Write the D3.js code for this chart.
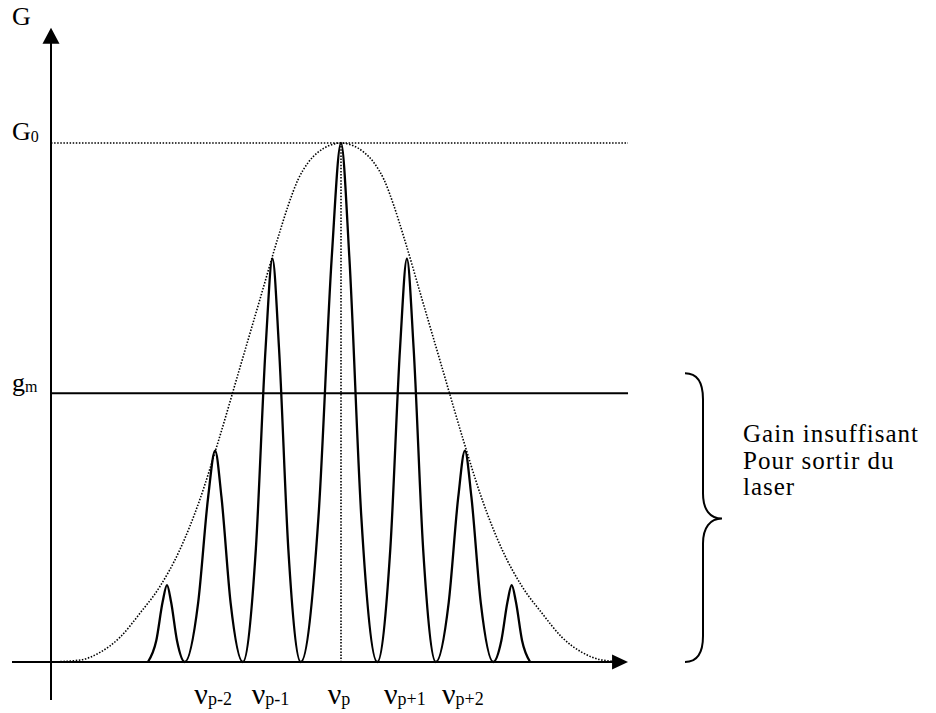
<!DOCTYPE html>
<html>
<head>
<meta charset="utf-8">
<script src="https://cdn.jsdelivr.net/npm/d3@7"></script>
<style>
  html, body { margin: 0; padding: 0; background: #fff; }
  svg text { font-family: "Liberation Serif", "Times New Roman", serif; fill: #000; }
</style>
</head>
<body>
<div id="chart"></div>
<script>
// longitudinal modes (nu in units of the mode spacing, gain relative to G0)
const modeNu = [-2.64, -1.91, -1.04, 0, 1.0, 1.88, 2.59];
const modeGain = [0.148, 0.407, 0.777, 1.0, 0.777, 0.407, 0.148];
const modeFeet = [-2.93, -2.37, -1.49, -0.61, 0.55, 1.44, 2.31, 2.87];
const modeLabels = ['', 'p-2', 'p-1', 'p', 'p+1', 'p+2', ''];
// shape of one mode: [fraction of half width, fraction of height]
const modeProfile = [[1, 0], [0.56, 0.28], [0.23, 0.78], [0, 1]];

// gain curve (dotted)
const envelopeNu = [-4.4, -3.95, -3.65, -3.35, -3.05, -2.75, -2.45, -2.15, -1.85, -1.55, -1.25, -0.95, -0.8, -0.65, -0.5, -0.35, -0.18, 0,
  0.18, 0.35, 0.5, 0.65, 0.8, 0.95, 1.25, 1.55, 1.85, 2.15, 2.45, 2.75, 3.05, 3.35, 3.65, 3.95, 4.3];
const envelopeGain = [0, 0.004, 0.019, 0.048, 0.094, 0.145, 0.215, 0.31, 0.43, 0.56, 0.69, 0.82, 0.88, 0.93, 0.962, 0.982, 0.995, 1,
  0.995, 0.982, 0.962, 0.93, 0.88, 0.82, 0.69, 0.56, 0.43, 0.31, 0.215, 0.145, 0.094, 0.048, 0.019, 0.004, 0];

const G0 = 1;
const gm = 0.518;
const noteLines = ['Gain insuffisant', 'Pour sortir du', 'laser'];

const width = 936, height = 713;

const x = d3.scaleLinear().domain([-4.4, 4.4]).range([51, 631]);
const y = d3.scaleLinear().domain([0, 1]).range([662, 143]);

const svg = d3.select('#chart').append('svg')
  .attr('width', width)
  .attr('height', height);

const dotted = sel => sel
  .attr('stroke', '#000').attr('stroke-width', 1.6)
  .attr('stroke-dasharray', '1.5 1.6');

// axes
const axisEndX = 4.355, axisEndY = 1.222;
svg.append('line')
  .attr('x1', 12).attr('x2', x(axisEndX) - 14)
  .attr('y1', y(0)).attr('y2', y(0))
  .attr('stroke', '#000').attr('stroke-width', 2);
svg.append('path')
  .attr('d', `M${x(axisEndX)},${y(0)} L${x(axisEndX) - 16},${y(0) - 7.5} L${x(axisEndX) - 16},${y(0) + 7.5} Z`)
  .attr('fill', '#000');
svg.append('line')
  .attr('x1', x(-4.4)).attr('x2', x(-4.4))
  .attr('y1', 700).attr('y2', y(axisEndY) + 14)
  .attr('stroke', '#000').attr('stroke-width', 2);
svg.append('path')
  .attr('d', `M${x(-4.4)},${y(axisEndY)} L${x(-4.4) - 8.5},${y(axisEndY) + 16} L${x(-4.4) + 8.5},${y(axisEndY) + 16} Z`)
  .attr('fill', '#000');

// G0 dotted level, gm threshold
svg.append('line')
  .attr('x1', x(-4.4)).attr('x2', x(axisEndX))
  .attr('y1', y(G0)).attr('y2', y(G0))
  .call(dotted);
svg.append('line')
  .attr('x1', x(-4.4)).attr('x2', x(axisEndX))
  .attr('y1', y(gm)).attr('y2', y(gm))
  .attr('stroke', '#000').attr('stroke-width', 2);

// vertical dotted at nu_p
svg.append('line')
  .attr('x1', x(0)).attr('x2', x(0))
  .attr('y1', y(G0)).attr('y2', y(0))
  .call(dotted);

// envelope
const envelope = envelopeNu.map((v, i) => [v, envelopeGain[i]]);
svg.append('path')
  .datum(envelope)
  .attr('fill', 'none')
  .call(dotted)
  .attr('d', d3.line().x(d => x(d[0])).y(d => y(d[1])).curve(d3.curveMonotoneX));

// modes
const comb = [];
modeNu.forEach((c, i) => {
  const a = modeFeet[i], b = modeFeet[i + 1], h = modeGain[i];
  modeProfile.forEach((p, k) => {
    if (i > 0 && k === 0) return;
    comb.push([c - (c - a) * p[0], h * p[1]]);
  });
  modeProfile.slice(0, -1).reverse().forEach(p => {
    comb.push([c + (b - c) * p[0], h * p[1]]);
  });
});
svg.append('path')
  .datum(comb)
  .attr('fill', 'none')
  .attr('stroke', '#000').attr('stroke-width', 2.3)
  .attr('stroke-linejoin', 'round')
  .attr('d', d3.line().x(d => x(d[0])).y(d => y(d[1])).curve(d3.curveMonotoneX));

// axis labels
svg.append('text').attr('x', 12).attr('y', 25).style('font-size', '26px').text('G');
const g0 = svg.append('text').attr('x', 12).attr('y', y(G0) - 3).style('font-size', '26px');
g0.append('tspan').text('G');
g0.append('tspan').attr('dy', 2).style('font-size', '16px').text('0');
const gmLab = svg.append('text').attr('x', 12).attr('y', y(gm) - 2).style('font-size', '26px');
gmLab.append('tspan').text('g');
gmLab.append('tspan').attr('dy', 1).style('font-size', '16px').text('m');

// mode labels
modeNu.forEach((c, i) => {
  if (!modeLabels[i]) return;
  const t = svg.append('text')
    .attr('x', x(c) - 2).attr('y', 704)
    .attr('text-anchor', 'middle');
  t.append('tspan').style('font-size', '30px').text('ν');
  t.append('tspan').attr('dy', 1).style('font-size', '18px').text(modeLabels[i]);
});

// brace + note
const bTop = y(gm) - 20, bBot = y(0), bMid = (bTop + bBot) / 2 + 1;
svg.append('path')
  .attr('d', `M685,${bTop} C697,${bTop} 703,${bTop + 8} 703,${bTop + 26}
    L703,${bMid - 25} C703,${bMid - 9} 710,${bMid} 722,${bMid}
    C710,${bMid} 703,${bMid + 9} 703,${bMid + 25}
    L703,${bBot - 26} C703,${bBot - 8} 697,${bBot} 685,${bBot}`)
  .attr('fill', 'none')
  .attr('stroke', '#000').attr('stroke-width', 2);

svg.append('g').selectAll('text')
  .data(noteLines)
  .join('text')
  .attr('x', 743)
  .attr('y', (d, i) => 442 + i * 26.5)
  .style('font-size', '25px')
  .style('letter-spacing', '1px')
  .text(d => d);
</script>
</body>
</html>
